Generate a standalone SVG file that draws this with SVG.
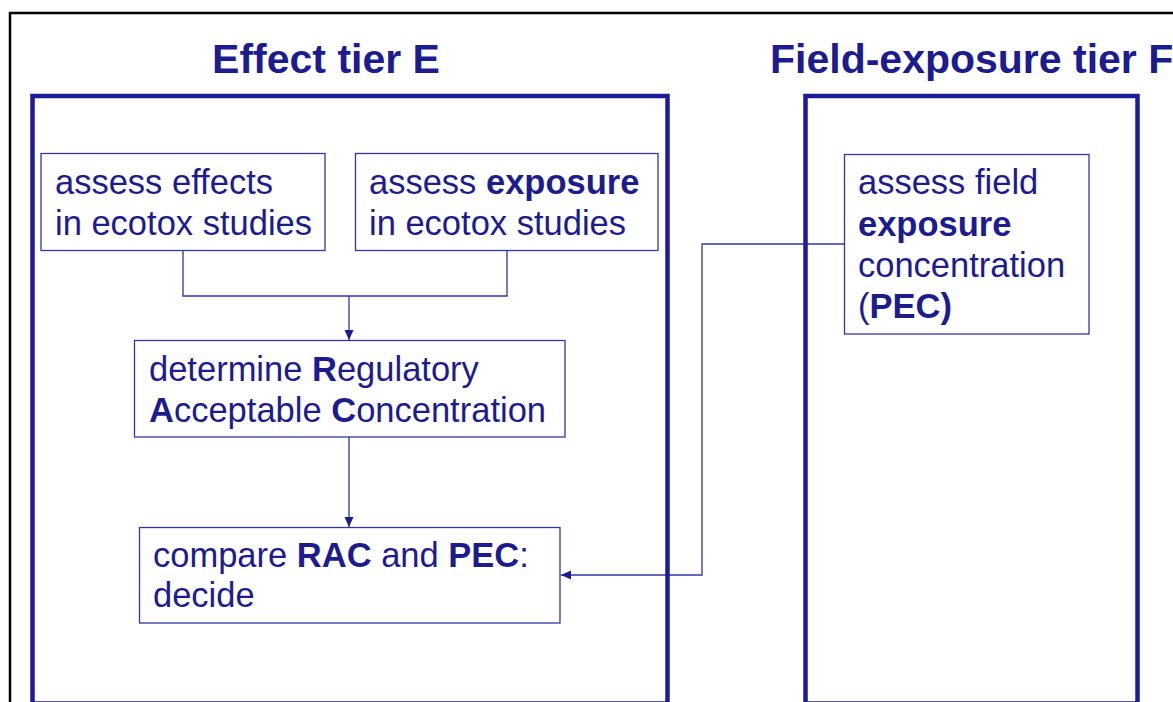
<svg xmlns="http://www.w3.org/2000/svg" width="1173" height="702" viewBox="0 0 1173 702">
  <defs>
    <style>
      .title { font-family: "Liberation Sans", Arial, sans-serif; font-weight: bold; font-size: 41px; fill: #1c1c8f; }
      .txt { font-family: "Liberation Sans", Arial, sans-serif; font-size: 34.5px; fill: #1c1c8f; }
      .b { font-weight: bold; }
      .node { fill: #ffffff; stroke: #3535a6; stroke-width: 1.3; }
      .tier { fill: none; stroke: #1c1c96; stroke-width: 4.5; }
      .conn { fill: none; stroke: #3535a6; stroke-width: 1.3; }
    </style>
    <marker id="arrow" markerUnits="userSpaceOnUse" markerWidth="10" markerHeight="10" refX="10" refY="4.5" orient="auto" viewBox="0 0 10 9">
      <path d="M0,0 L10,4.5 L0,9 z" fill="#1c1c8f"/>
    </marker>
  </defs>
  <rect width="1173" height="702" fill="#ffffff"/>
  <rect x="10" y="13" width="1200" height="720" fill="none" stroke="#000000" stroke-width="2.5"/>

  <g id="connectors">
    <path class="conn" d="M183 251 V296 H507 V251"/>
    <path class="conn" d="M349 296 V340" marker-end="url(#arrow)"/>
    <path class="conn" d="M349 437 V527" marker-end="url(#arrow)"/>
    <path class="conn" d="M844 244 H702 V575 H561" marker-end="url(#arrow)"/>
  </g>

  <g id="tier-e">
    <rect class="tier" x="32.5" y="96" width="635" height="607.5"/>
    <text class="title" x="326" y="73" text-anchor="middle">Effect tier E</text>
  </g>
  <g id="tier-f">
    <rect class="tier" x="805.5" y="96" width="332" height="607.5"/>
    <text class="title" x="770" y="73">Field-exposure tier F</text>
  </g>

  <g id="assess-effects">
    <rect class="node" x="41" y="153.5" width="284" height="97"/>
    <text class="txt" x="55" y="194">assess effects</text>
    <text class="txt" x="55" y="235">in ecotox studies</text>
  </g>
  <g id="assess-exposure">
    <rect class="node" x="355.5" y="153.5" width="302.5" height="97"/>
    <text class="txt" x="369" y="194">assess <tspan class="b">exposure</tspan></text>
    <text class="txt" x="369" y="235">in ecotox studies</text>
  </g>
  <g id="determine-rac">
    <rect class="node" x="134.5" y="340.5" width="430.5" height="96.5"/>
    <text class="txt" x="149" y="381">determine <tspan class="b">R</tspan>egulatory</text>
    <text class="txt" x="149" y="422"><tspan class="b">A</tspan>cceptable <tspan class="b">C</tspan>oncentration</text>
  </g>
  <g id="compare">
    <rect class="node" x="139.5" y="527.5" width="420.5" height="95.5"/>
    <text class="txt" x="153" y="567">compare <tspan class="b">RAC</tspan> and <tspan class="b">PEC</tspan>:</text>
    <text class="txt" x="153" y="607">decide</text>
  </g>
  <g id="assess-field">
    <rect class="node" x="844.5" y="154.5" width="244.5" height="179.5"/>
    <text class="txt" x="858" y="194">assess field</text>
    <text class="txt b" x="858" y="236">exposure</text>
    <text class="txt" x="858" y="277">concentration</text>
    <text class="txt" x="858" y="318">(<tspan class="b">PEC)</tspan></text>
  </g>
</svg>
